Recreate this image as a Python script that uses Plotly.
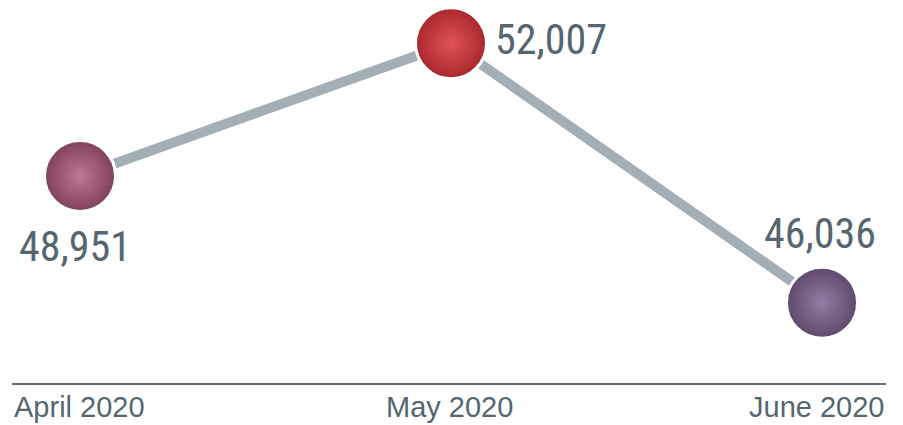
import plotly.graph_objects as go

categories = ["April 2020", "May 2020", "June 2020"]
values = [48951, 52007, 46036]
value_labels = ["48,951", "52,007", "46,036"]
light_colors = ["#bf7a95", "#e05258", "#967da3"]
edge_colors = ["#80405a", "#a8272c", "#5e486b"]

x_idx = list(range(len(categories)))

fig = go.Figure()

fig.add_trace(go.Scatter(
    x=x_idx, y=values, mode="lines",
    line=dict(color="#a2afb7", width=10),
    hoverinfo="skip", showlegend=False,
))

fig.add_trace(go.Scatter(
    x=x_idx, y=values, mode="markers",
    marker=dict(
        size=71,
        color=edge_colors,
        gradient=dict(type="radial", color=light_colors),
        line=dict(color="white", width=3),
        opacity=1,
    ),
    hoverinfo="skip", showlegend=False,
))

label_pos = [
    dict(xanchor="center", yanchor="top", xshift=-5, yshift=-44),
    dict(xanchor="left", yanchor="middle", xshift=42, yshift=4),
    dict(xanchor="center", yanchor="bottom", xshift=-2, yshift=43),
]
annotations = []
for i, (v, t) in enumerate(zip(values, value_labels)):
    annotations.append(dict(
        x=x_idx[i], y=v, xref="x", yref="y", text=t, showarrow=False,
        font=dict(family="Liberation Sans Narrow, Roboto Condensed, DejaVu Sans Condensed, sans-serif",
                  size=42, color="#55666f"),
        **label_pos[i],
    ))

n = len(categories)
anchors = ["left", "center", "right"]
for i, c in enumerate(categories):
    annotations.append(dict(
        x=i / (n - 1), y=0, xref="paper", yref="paper", text=c, showarrow=False,
        xanchor=anchors[i], yanchor="top", yshift=-6,
        font=dict(family="Liberation Sans, Arial, sans-serif", size=29, color="#55666f"),
    ))

fig.update_layout(
    width=903, height=425,
    margin=dict(l=12, r=17, t=0, b=42),
    paper_bgcolor="white", plot_bgcolor="white",
    xaxis=dict(range=[-0.1833, 2.1725], showgrid=False, zeroline=False,
               showticklabels=False, ticks="", showline=True,
               linecolor="#5f6f78", linewidth=1.5, fixedrange=True),
    yaxis=dict(range=[44187, 53002], showgrid=False, zeroline=False,
               showticklabels=False, ticks="", showline=False, fixedrange=True),
    annotations=annotations,
)

fig.write_html("out.html")
